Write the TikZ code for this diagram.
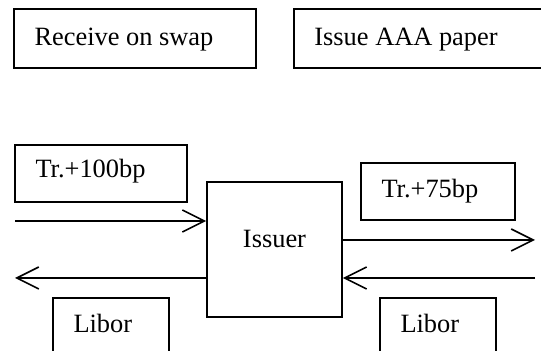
\documentclass[tikz,border=0pt]{standalone}
\usepackage{fontspec}
\setmainfont{Liberation Serif}
\usetikzlibrary{arrows.meta}
\begin{document}
\begin{tikzpicture}[x=0.5pt,y=-0.5pt,
  font=\fontsize{13.2pt}{15.5pt}\selectfont,
  box/.style={draw, line width=0.9pt, inner xsep=10.25pt, inner ysep=0pt,
    align=flush left, text height=10pt, text depth=3pt},
  flow/.style={line width=0.8pt,
    -{Straight Barb[length=11pt, width=11pt, line width=0.8pt]}}]
\useasboundingbox (0,0) rectangle (541,351);
\clip (0,0) rectangle (541,351);

% top row
\node[box, text width=100.5pt, minimum height=29.5pt] (swap) at (135,38.5) {Receive on swap};
\node[box, text width=113pt, minimum height=29.5pt, anchor=west] (paper) at (293,38.5) {Issue AAA paper};

% central party
\node[draw, line width=0.9pt, inner sep=0pt, minimum width=67.5pt, minimum height=67.5pt,
  text height=3pt, text depth=4.5pt] (issuer) at (274.5,249.5) {Issuer};

% rate labels
\node[box, text width=65.5pt, minimum height=28.5pt, text height=7.5pt] (tr100) at (101,173.5) {Tr.+100bp};
\node[box, text width=56.5pt, minimum height=28.5pt, text height=9.5pt] (tr75) at (438,191.5) {Tr.+75bp};
\node[box, text width=37.5pt, minimum height=28.5pt, text height=9.5pt] (liborL) at (111,326.5) {Libor};
\node[box, text width=37.5pt, minimum height=28.5pt, text height=9.5pt] (liborR) at (438,326.5) {Libor};

% free ends of the flows
\coordinate (inL) at (15,221);
\coordinate (outL) at (15,278);
\coordinate (outR) at (535,240);
\coordinate (inR) at (535,278);

\draw[flow] (inL) -- (inL -| issuer.west);
\draw[flow] (outL -| issuer.west) -- (outL);
\draw[flow] (outR -| issuer.east) -- (outR);
\draw[flow] (inR) -- (inR -| issuer.east);
\end{tikzpicture}
\end{document}
